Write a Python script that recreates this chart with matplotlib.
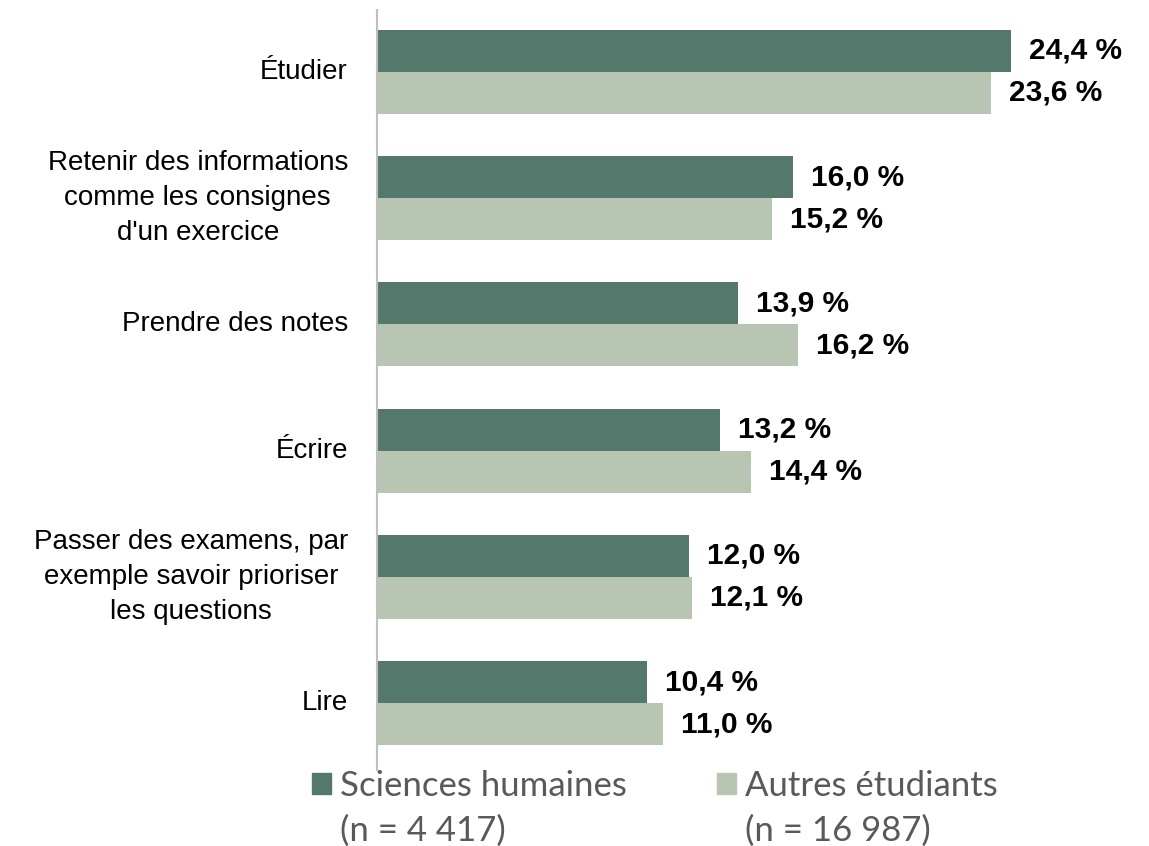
import matplotlib.pyplot as plt
from matplotlib.patches import Rectangle

categories = [
    "Étudier",
    "Retenir des informations\ncomme les consignes\nd'un exercice",
    "Prendre des notes",
    "Écrire",
    "Passer des examens, par\nexemple savoir prioriser\nles questions",
    "Lire",
]
sciences_humaines = [24.4, 16.0, 13.9, 13.2, 12.0, 10.4]
autres_etudiants = [23.6, 15.2, 16.2, 14.4, 12.1, 11.0]
series_labels = ["Sciences humaines", "Autres étudiants"]
series_counts = ["(n = 4 417)", "(n = 16 987)"]

DARK = "#54786b"
LIGHT = "#b8c5b2"
W, H = 1149, 846

fig = plt.figure(figsize=(W / 100, H / 100), dpi=100)
ax_left, ax_right, ax_top, ax_bottom = 377, 1149, 10, 770
ax = fig.add_axes(
    [ax_left / W, 1 - ax_bottom / H, (ax_right - ax_left) / W, (ax_bottom - ax_top) / H]
)

px_per_unit = 26.0
ax.set_xlim(0, (ax_right - ax_left) / px_per_unit)
ax.set_ylim(5.53, -0.49)

bar_h = 0.333
ys = list(range(len(categories)))
ax.barh([y - bar_h / 2 for y in ys], sciences_humaines, height=bar_h, color=DARK)
ax.barh([y + bar_h / 2 for y in ys], autres_etudiants, height=bar_h, color=LIGHT)

value_font = ["Liberation Sans", "DejaVu Sans"]
for y, a, b in zip(ys, sciences_humaines, autres_etudiants):
    for v, off in ((a, -bar_h / 2), (b, bar_h / 2)):
        ax.annotate(
            f"{v:.1f} %".replace(".", ","),
            (v, y + off),
            xytext=(13, 0),
            textcoords="offset points",
            va="center",
            ha="left",
            fontsize=21.5,
            fontweight="bold",
            family=value_font,
        )

for y, cat in zip(ys, categories):
    ax.text(
        -29 / px_per_unit, y, cat,
        ha="right", va="center", multialignment="center",
        fontsize=20, family=["Liberation Sans", "DejaVu Sans"], linespacing=1.45,
    )

for side in ("top", "right", "bottom"):
    ax.spines[side].set_visible(False)
ax.spines["left"].set_color("#bfbfbf")
ax.spines["left"].set_linewidth(1.5)
ax.set_xticks([])
ax.set_yticks([])

handles = [
    Rectangle((0, 0), 1, 1, color=DARK),
    Rectangle((0, 0), 1, 1, alpha=0),
    Rectangle((0, 0), 1, 1, color=LIGHT),
    Rectangle((0, 0), 1, 1, alpha=0),
]
labels = [series_labels[0], series_counts[0], series_labels[1], series_counts[1]]
fig.legend(
    handles, labels, ncol=2, frameon=False,
    loc="upper left", bbox_to_anchor=(312 / W, 1 - 770 / H),
    prop={"family": "Lato", "size": 25},
    labelcolor="#595959",
    handlelength=0.55, handleheight=0.55, handletextpad=0.26,
    columnspacing=2.6, labelspacing=0.37, borderpad=0, borderaxespad=0,
)

fig.savefig("out.png", dpi=100)
